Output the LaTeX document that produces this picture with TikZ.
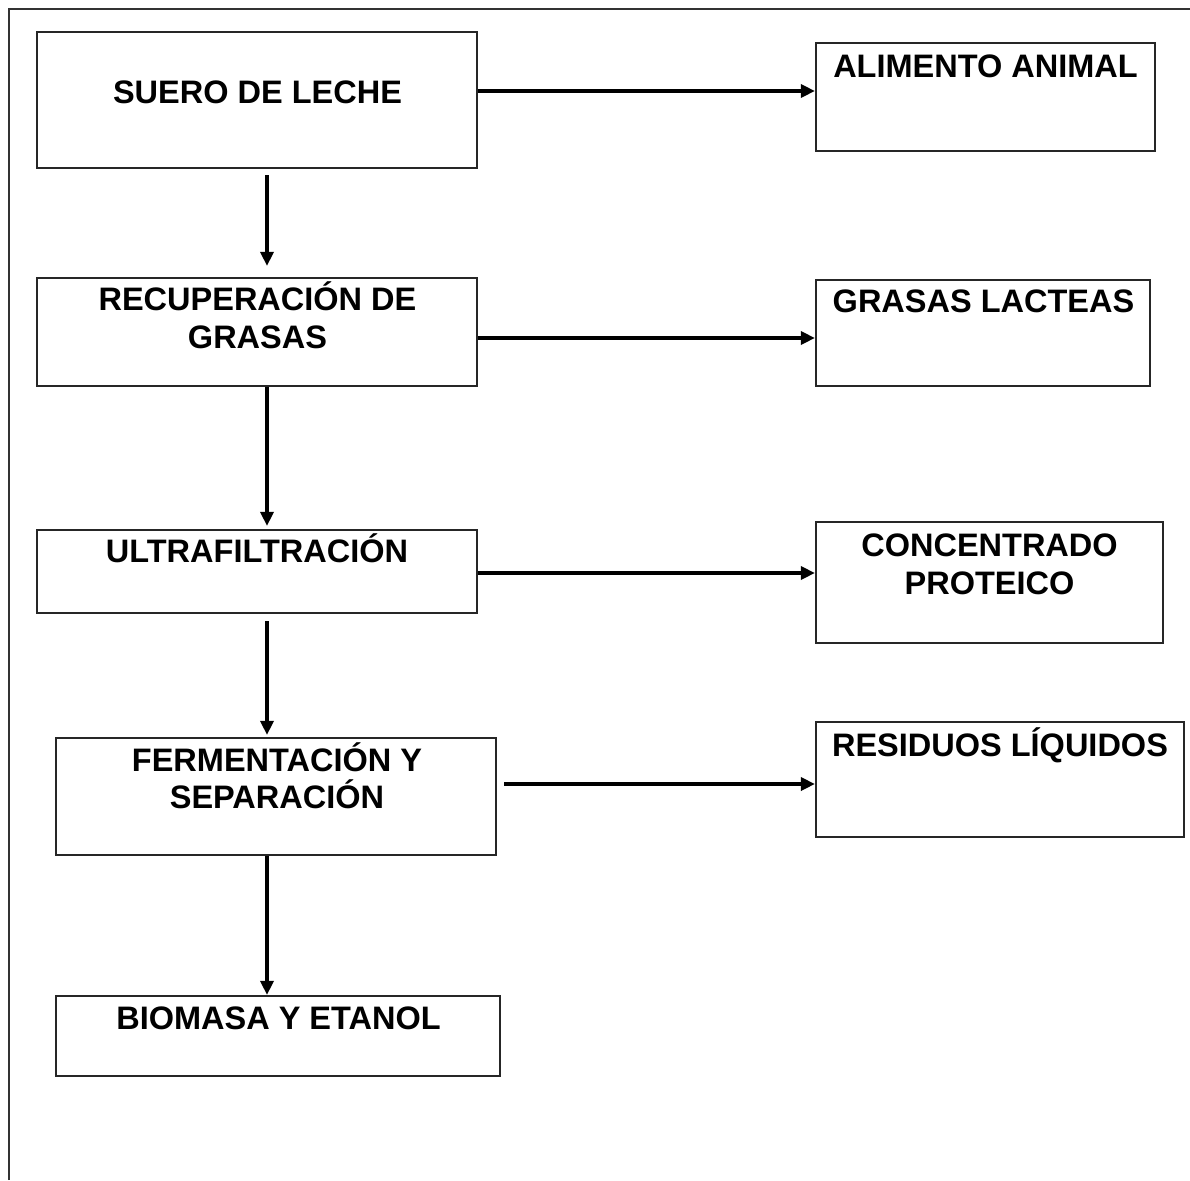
\documentclass[tikz,border=0pt]{standalone}
\usepackage{fontspec}
\setmainfont{Liberation Sans}
\usetikzlibrary{arrows.meta}
\begin{document}
\begin{tikzpicture}[x=1pt,y=-1pt,
  box/.style={draw=black!85,line width=2.2pt,rectangle,inner sep=0pt},
  lbl/.style={anchor=base,inner sep=0pt,font=\fontsize{32.5}{38}\selectfont\bfseries},
  arr/.style={line width=3.4pt,-{Triangle[length=14pt,width=13pt]}},
  frame/.style={draw=black!80,line width=2.4pt}]
\useasboundingbox (0,0) rectangle (1190,1180);
% outer frame (left and top edges)
\coordinate (fA) at (9,1180);
\coordinate (fB) at (9,9);
\coordinate (fC) at (1190,9);
\draw[frame] (fA) -- (fB) -- (fC);
% boxes
\node[box,minimum width=440pt,minimum height=136pt] (suero) at (257,100) {};
\node[box,minimum width=339pt,minimum height=108pt] (alim) at (985.5,97) {};
\node[box,minimum width=440pt,minimum height=108pt] (recup) at (257,332) {};
\node[box,minimum width=334pt,minimum height=106pt] (grasas) at (983,333) {};
\node[box,minimum width=440pt,minimum height=83pt] (ultra) at (257,571.5) {};
\node[box,minimum width=347pt,minimum height=121pt] (conc) at (989.5,582.5) {};
\node[box,minimum width=440pt,minimum height=117pt] (ferm) at (276,796.5) {};
\node[box,minimum width=368pt,minimum height=115pt] (resid) at (1000,779.5) {};
\node[box,minimum width=444pt,minimum height=80pt] (bio) at (278,1036) {};
% labels
\node[lbl] (t1) at (257.5,103.5) {SUERO DE LECHE};
\node[lbl] (t2) at (985.5,77.5) {ALIMENTO ANIMAL};
\node[lbl] (t3a) at (257.5,310.5) {RECUPERACIÓN DE};
\node[lbl] (t3b) at (257.5,348.5) {GRASAS};
\node[lbl] (t4) at (983.5,312.5) {GRASAS LACTEAS};
\node[lbl] (t5) at (257,562.5) {ULTRAFILTRACIÓN};
\node[lbl] (t6a) at (989.5,556.5) {CONCENTRADO};
\node[lbl] (t6b) at (989.5,594.5) {PROTEICO};
\node[lbl] (t7a) at (277,771.5) {FERMENTACIÓN Y};
\node[lbl] (t7b) at (277,808.5) {SEPARACIÓN};
\node[lbl] (t8) at (1000,756.5) {RESIDUOS LÍQUIDOS};
\node[lbl] (t9) at (278.5,1029.5) {BIOMASA Y ETANOL};
% horizontal arrows
\draw[arr] (suero.east |- 0,91) -- (alim.west |- 0,91);
\draw[arr] (recup.east |- 0,338) -- (grasas.west |- 0,338);
\draw[arr] (ultra.east |- 0,573) -- (conc.west |- 0,573);
\draw[arr,shorten <=7pt] (ferm.east |- 0,784) -- (resid.west |- 0,784);
% vertical arrows
\draw[arr,shorten <=6pt,shorten >=11pt] (suero.south -| 267,0) -- (recup.north -| 267,0);
\draw[arr,shorten >=3pt] (recup.south -| 267,0) -- (ultra.north -| 267,0);
\draw[arr,shorten <=7pt,shorten >=2pt] (ultra.south -| 267,0) -- (ferm.north -| 267,0);
\draw[arr] (ferm.south -| 267,0) -- (bio.north -| 267,0);
\end{tikzpicture}
\end{document}
